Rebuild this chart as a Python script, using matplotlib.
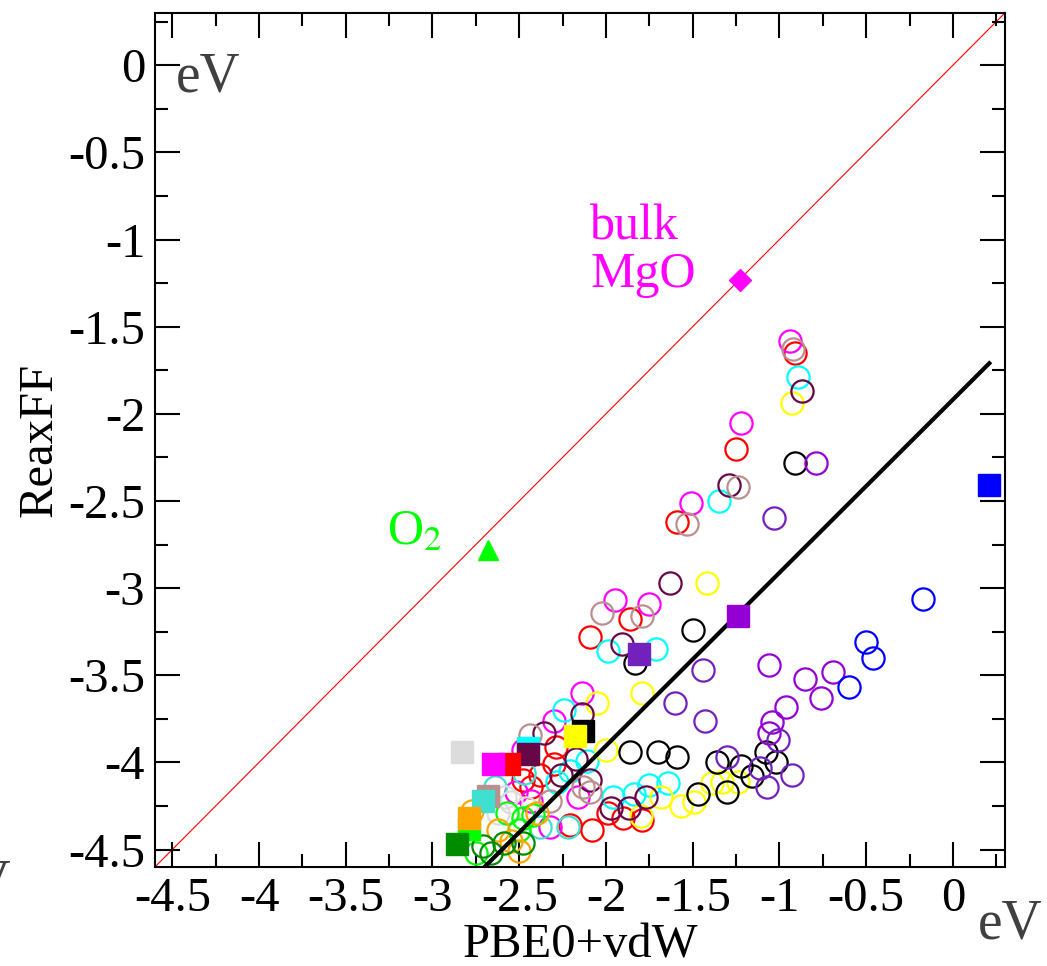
import numpy as np
import matplotlib
matplotlib.use("Agg")
import matplotlib.pyplot as plt
from matplotlib.ticker import MultipleLocator

plt.rcParams['font.family'] = ['Liberation Serif', 'DejaVu Serif']
plt.rcParams['mathtext.fontset'] = 'stix'

# axis ticks
tick_vals = [-4.5, -4, -3.5, -3, -2.5, -2, -1.5, -1, -0.5, 0]
tick_labels = ['-4.5', '-4', '-3.5', '-3', '-2.5', '-2', '-1.5', '-1', '-0.5', '0']

# open circles per colour: (PBE0+vdW, ReaxFF)
red_x = [-0.91, -1.25, -1.59, -1.86, -2.09, -1.99, -1.90, -1.79, -2.08, -2.29, -2.30, -2.38, -2.43, -2.21, -2.48]
red_y = [-1.65, -2.20, -2.62, -3.18, -3.28, -4.29, -4.32, -4.33, -4.39, -3.91, -4.01, -4.07, -4.14, -4.36, -4.10]
magenta_x = [-0.94, -1.22, -1.51, -1.95, -1.75, -2.14, -2.30, -2.16, -2.52, -2.48, -2.32, -2.43]
magenta_y = [-1.58, -2.05, -2.51, -3.07, -3.09, -3.60, -3.76, -4.20, -4.17, -3.93, -4.37, -4.22]
cyan_x = [-0.89, -1.35, -1.99, -1.71, -2.24, -2.11, -1.64, -1.75, -1.84, -1.96, -2.21, -2.28]
cyan_y = [-1.79, -2.50, -3.36, -3.35, -3.70, -3.99, -4.12, -4.13, -4.18, -4.20, -4.05, -4.11]
yellow_x = [-0.93, -1.42, -2.05, -1.79, -2.00, -1.39, -1.33, -1.24, -1.49, -1.57, -1.68, -1.80]
yellow_y = [-1.94, -2.97, -3.66, -3.60, -3.93, -4.12, -4.11, -4.11, -4.23, -4.25, -4.20, -4.31]
black_x = [-0.91, -1.50, -1.83, -1.86, -1.70, -1.59, -1.36, -1.22, -1.08, -1.02, -1.16, -1.30, -1.47]
black_y = [-2.28, -3.24, -3.43, -3.94, -3.94, -3.97, -4.00, -4.02, -3.94, -4.00, -4.08, -4.17, -4.18]
maroon_x = [-0.87, -1.29, -1.63, -1.91, -2.14, -2.36, -2.26, -2.09, -2.17, -1.77, -1.87, -1.97]
maroon_y = [-1.87, -2.41, -2.97, -3.32, -3.72, -3.83, -4.07, -4.10, -3.98, -4.20, -4.26, -4.26]
brown_x = [-0.92, -1.24, -1.53, -2.02, -1.79, -2.44, -2.13, -2.09, -2.32]
brown_y = [-1.63, -2.42, -2.63, -3.14, -3.16, -3.84, -4.14, -4.17, -4.22]
violet_x = [-0.79, -1.06, -0.85, -0.69, -0.76, -0.96, -1.04, -1.06]
violet_y = [-2.28, -3.44, -3.52, -3.48, -3.63, -3.68, -3.77, -3.83]
indigo_x = [-1.03, -1.44, -1.60, -1.43, -1.01, -1.30, -1.11, -1.07, -0.93]
indigo_y = [-2.60, -3.47, -3.66, -3.76, -3.87, -3.97, -4.03, -4.14, -4.07]
blue_x = [-0.17, -0.50, -0.46, -0.60]
blue_y = [-3.06, -3.31, -3.40, -3.57]
turq_x = [-2.22, -2.47, -2.64, -2.38]
turq_y = [-4.37, -4.06, -4.14, -4.37]
grey_x = [-2.55, -2.46, -2.62, -2.58]
grey_y = [-4.23, -4.26, -4.29, -4.20]
lime_x = [-2.57, -2.48, -2.50, -2.75, -2.42]
lime_y = [-4.29, -4.32, -4.39, -4.52, -4.30]
orange_x = [-2.77, -2.40, -2.62, -2.50, -2.55]
orange_y = [-4.28, -4.29, -4.39, -4.51, -4.45]
green4_x = [-2.71, -2.59, -2.48, -2.66]
green4_y = [-4.48, -4.46, -4.46, -4.52]

# filled squares, one per colour
sq_colors = ['#0000ff', '#9400d3', '#7221bc', '#000000', '#ffff00', '#00ffff', '#670748',
             '#ff0000', '#ff00ff', '#dcdcdc', '#bc8f8f', '#40e0d0', '#00ff00', '#ffa500', '#008b00']
sq_x = [0.21, -1.24, -1.81, -2.13, -2.18, -2.45, -2.45, -2.56, -2.65, -2.83, -2.68, -2.71, -2.79, -2.79, -2.86]
sq_y = [-2.41, -3.16, -3.38, -3.82, -3.85, -3.92, -3.95, -4.01, -4.01, -3.94, -4.19, -4.22, -4.38, -4.32, -4.47]

# reference points
mgo_x, mgo_y = -1.23, -1.23
o2_x, o2_y = -2.68, -2.78

# fitted line
fit_x = [-2.70, 0.21]
fit_y = [-4.60, -1.71]

lims = [-4.6, 0.3]

fig = plt.figure(figsize=(10.47, 9.66), dpi=100)
ax = fig.add_axes([0.148, 0.1025, 0.8118, 0.8841])

ax.plot(lims, lims, color='red', lw=0.8, zorder=1)

circle_sets = [
    (red_x, red_y, '#ff0000'), (magenta_x, magenta_y, '#ff00ff'), (cyan_x, cyan_y, '#00ffff'),
    (yellow_x, yellow_y, '#ffff00'), (black_x, black_y, '#000000'), (maroon_x, maroon_y, '#670748'),
    (brown_x, brown_y, '#bc8f8f'), (violet_x, violet_y, '#9400d3'), (indigo_x, indigo_y, '#7221bc'),
    (blue_x, blue_y, '#0000ff'), (turq_x, turq_y, '#40e0d0'), (grey_x, grey_y, '#dcdcdc'),
    (lime_x, lime_y, '#00ff00'), (orange_x, orange_y, '#ffa500'), (green4_x, green4_y, '#008b00'),
]
for xs, ys, c in circle_sets:
    ax.plot(xs, ys, 'o', ls='none', ms=16, mfc='none', mec=c, mew=1.6, zorder=3)

ax.plot(fit_x, fit_y, color='black', lw=3, zorder=4)

for x, y, c in zip(sq_x, sq_y, sq_colors):
    ax.plot(x, y, 's', ms=16, color=c, mec=c, zorder=5)

ax.plot(mgo_x, mgo_y, 'D', ms=11, color='#ff00ff', zorder=5)
ax.plot(o2_x, o2_y, '^', ms=15, color='#00ff00', zorder=5)

ax.text(-2.09, -1.0, 'bulk', color='#ff00ff', fontsize=36)
ax.text(-2.09, -1.27, 'MgO', color='#ff00ff', fontsize=36)
ax.text(-3.26, -2.75, r'O$_2$', color='#00ff00', fontsize=36)

ax.set_xlim(lims)
ax.set_ylim(lims)
ax.set_xticks(tick_vals)
ax.set_xticklabels(tick_labels)
ax.set_yticks(tick_vals)
ax.set_yticklabels(tick_labels)
ax.xaxis.set_minor_locator(MultipleLocator(0.25))
ax.yaxis.set_minor_locator(MultipleLocator(0.25))
ax.tick_params(which='both', direction='in', top=True, right=True, width=1.5, labelsize=35)
ax.tick_params(which='major', length=18, pad=7)
ax.tick_params(which='minor', length=9.5)
for s in ax.spines.values():
    s.set_linewidth(1.5)

ax.set_xlabel('PBE0+vdW', fontsize=35)
ax.set_ylabel('ReaxFF', fontsize=35)
ax.xaxis.set_label_coords(0.5, -0.066)
ax.yaxis.set_label_coords(-0.11, 0.5)

fig.text(0.168, 0.905, 'eV', fontsize=40, color='#404040')
fig.text(0.934, 0.028, 'eV', fontsize=40, color='#404040')
fig.text(0.011, 0.070, 'eV', fontsize=40, color='#404040', ha='right')

fig.savefig('out.png', dpi=100)
